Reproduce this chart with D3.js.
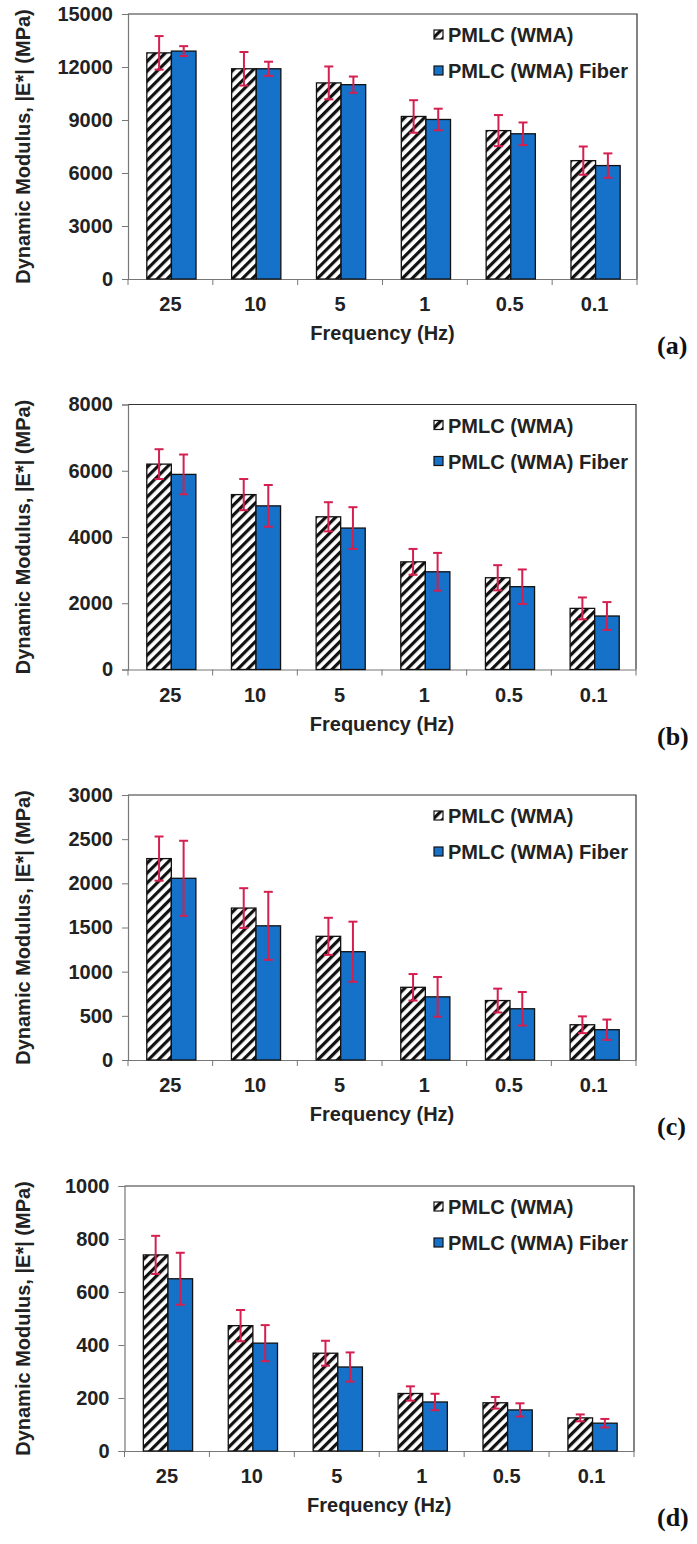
<!DOCTYPE html>
<html>
<head>
<meta charset="utf-8">
<script src="https://cdn.jsdelivr.net/npm/d3@7"></script>
<style>
  html, body { margin: 0; padding: 0; background: #ffffff; }
  svg { display: block; }
  text { font-family: "Liberation Sans", Arial, sans-serif; font-weight: bold; fill: #222; }
</style>
</head>
<body>
<svg id="chart" width="697" height="1544"></svg>
<script>
// Loading frequencies (Hz) shared by all four panels
const frequencies = ["25", "10", "5", "1", "0.5", "0.1"];
const seriesNames = ["PMLC (WMA)", "PMLC (WMA) Fiber"];

// Panel (a): dynamic modulus |E*| (MPa) and standard deviations
const modA_plain = [12800, 11900, 11100, 9200, 8400, 6700];
const errA_plain = [950, 950, 930, 920, 880, 800];
const modA_fiber = [12900, 11900, 11000, 9030, 8220, 6420];
const errA_fiber = [280, 400, 460, 610, 640, 690];
const ticksA = [0, 3000, 6000, 9000, 12000, 15000];

// Panel (b)
const modB_plain = [6200, 5280, 4610, 3250, 2770, 1845];
const errB_plain = [450, 470, 440, 390, 380, 330];
const modB_fiber = [5890, 4940, 4270, 2950, 2500, 1615];
const errB_fiber = [600, 630, 630, 570, 520, 420];
const ticksB = [0, 2000, 4000, 6000, 8000];

// Panel (c)
const modC_plain = [2280, 1720, 1400, 823, 673, 399];
const errC_plain = [250, 225, 210, 150, 135, 95];
const modC_fiber = [2057, 1519, 1226, 715, 580, 343];
const errC_fiber = [425, 385, 340, 225, 190, 115];
const ticksC = [0, 500, 1000, 1500, 2000, 2500, 3000];

// Panel (d)
const modD_plain = [740, 473, 369, 217, 182, 125];
const errD_plain = [72, 59, 47, 27, 22, 13];
const modD_fiber = [650, 407, 317, 185, 155, 105];
const errD_fiber = [98, 68, 55, 31, 25, 16];
const ticksD = [0, 200, 400, 600, 800, 1000];

const panels = [
  { tag: "(a)", plain: modA_plain, plainErr: errA_plain, fiber: modA_fiber, fiberErr: errA_fiber, ticks: ticksA, top: 14,   left: 128,   right: 637 },
  { tag: "(b)", plain: modB_plain, plainErr: errB_plain, fiber: modB_fiber, fiberErr: errB_fiber, ticks: ticksB, top: 404.5, left: 128,  right: 636 },
  { tag: "(c)", plain: modC_plain, plainErr: errC_plain, fiber: modC_fiber, fiberErr: errC_fiber, ticks: ticksC, top: 795,  left: 128,   right: 636 },
  { tag: "(d)", plain: modD_plain, plainErr: errD_plain, fiber: modD_fiber, fiberErr: errD_fiber, ticks: ticksD, top: 1186, left: 124.5, right: 634 }
];

const plotH = 265;
const BLUE = "#1672c8";
const ERR = "#d41f4f";

const svg = d3.select("#chart");

// Diagonal hatch for the plain mixture
const defs = svg.append("defs");
const pat = defs.append("pattern")
  .attr("id", "hatch")
  .attr("patternUnits", "userSpaceOnUse")
  .attr("width", 7).attr("height", 7)
  .attr("patternTransform", "rotate(45)");
pat.append("rect").attr("width", 7).attr("height", 7).attr("fill", "#ffffff");
pat.append("rect").attr("width", 3.2).attr("height", 7).attr("fill", "#111");

panels.forEach(p => {
  const g = svg.append("g");
  const bottom = p.top + plotH;
  const yMax = p.ticks[p.ticks.length - 1];

  const x = d3.scaleBand().domain(frequencies).range([p.left, p.right]);
  const sub = d3.scaleBand().domain(seriesNames)
    .range([0, x.bandwidth() * 0.58]);
  const groupOffset = (x.bandwidth() - sub.range()[1]) / 2 + 1;
  const y = d3.scaleLinear().domain([0, yMax]).range([bottom, p.top]);

  // Frame: top and right edges
  g.append("path")
    .attr("d", `M${p.left},${p.top}H${p.right}V${bottom}`)
    .attr("fill", "none").attr("stroke", "#333").attr("stroke-width", 1.2);

  // Y axis
  const yAxis = g.append("g")
    .attr("transform", `translate(${p.left},0)`)
    .call(d3.axisLeft(y).tickValues(p.ticks).tickSize(6).tickPadding(9).tickFormat(d3.format("d")));
  yAxis.select(".domain").attr("stroke", "#777").attr("stroke-width", 1.2);
  yAxis.selectAll(".tick line").attr("stroke", "#777");
  yAxis.selectAll("text").style("font-size", "20px").style("fill", "#222");

  // X axis: category labels
  const xAxis = g.append("g")
    .attr("transform", `translate(0,${bottom})`)
    .call(d3.axisBottom(x).tickSize(0).tickPadding(18));
  xAxis.select(".domain").attr("stroke", "#777").attr("stroke-width", 1.2);
  xAxis.selectAll("text").style("font-size", "20px").style("fill", "#222");

  // Category boundary ticks
  const bounds = frequencies.map(f => x(f)).concat([x.range()[1]]);
  g.selectAll(".bt").data(bounds).join("line")
    .attr("x1", d => d).attr("x2", d => d)
    .attr("y1", bottom).attr("y2", bottom + 6)
    .attr("stroke", "#777").attr("stroke-width", 1);

  const rows = frequencies.map((f, i) => ({
    f,
    bars: [
      { s: seriesNames[0], v: p.plain[i], e: p.plainErr[i] },
      { s: seriesNames[1], v: p.fiber[i], e: p.fiberErr[i] }
    ]
  }));

  const groups = g.selectAll(".grp").data(rows).join("g")
    .attr("transform", d => `translate(${x(d.f) + groupOffset},0)`);

  groups.selectAll("rect").data(d => d.bars).join("rect")
    .attr("x", d => sub(d.s))
    .attr("width", sub.bandwidth())
    .attr("y", d => y(d.v))
    .attr("height", d => bottom - y(d.v))
    .attr("fill", d => d.s === seriesNames[0] ? "url(#hatch)" : BLUE)
    .attr("stroke", "#111").attr("stroke-width", 1.3);

  // Error bars
  const eb = groups.selectAll(".eb").data(d => d.bars).join("g")
    .attr("transform", d => `translate(${sub(d.s) + sub.bandwidth() / 2},0)`);
  eb.append("line")
    .attr("y1", d => y(d.v + d.e)).attr("y2", d => y(d.v - d.e))
    .attr("stroke", ERR).attr("stroke-width", 2);
  eb.append("line")
    .attr("x1", -4.5).attr("x2", 4.5)
    .attr("y1", d => y(d.v + d.e)).attr("y2", d => y(d.v + d.e))
    .attr("stroke", ERR).attr("stroke-width", 2);
  eb.append("line")
    .attr("x1", -4.5).attr("x2", 4.5)
    .attr("y1", d => y(d.v - d.e)).attr("y2", d => y(d.v - d.e))
    .attr("stroke", ERR).attr("stroke-width", 2);

  // Legend
  const lg = g.append("g").attr("transform", `translate(434,${p.top + 21})`);
  seriesNames.forEach((name, i) => {
    const row = lg.append("g").attr("transform", `translate(0,${i * 36})`);
    row.append("rect")
      .attr("x", 0).attr("y", -5).attr("width", 9).attr("height", 9)
      .attr("fill", i === 0 ? "url(#hatch)" : BLUE)
      .attr("stroke", "#111").attr("stroke-width", 1.2);
    row.append("text")
      .attr("x", 14).attr("y", 7)
      .style("font-size", "20px")
      .text(name);
  });

  // Axis titles
  g.append("text")
    .attr("transform", `translate(30,${p.top + plotH / 2}) rotate(-90)`)
    .attr("text-anchor", "middle")
    .style("font-size", "20px")
    .text("Dynamic Modulus, |E*| (MPa)");
  g.append("text")
    .attr("x", (p.left + p.right) / 2).attr("y", bottom + 61)
    .attr("text-anchor", "middle")
    .style("font-size", "20px")
    .text("Frequency (Hz)");

  // Panel tag
  g.append("text")
    .attr("x", 657).attr("y", p.top + 340)
    .style("font-family", "'Liberation Serif', 'Times New Roman', serif")
    .style("font-size", "26px")
    .style("font-weight", "bold")
    .style("fill", "#111")
    .text(p.tag);
});
</script>
</body>
</html>
